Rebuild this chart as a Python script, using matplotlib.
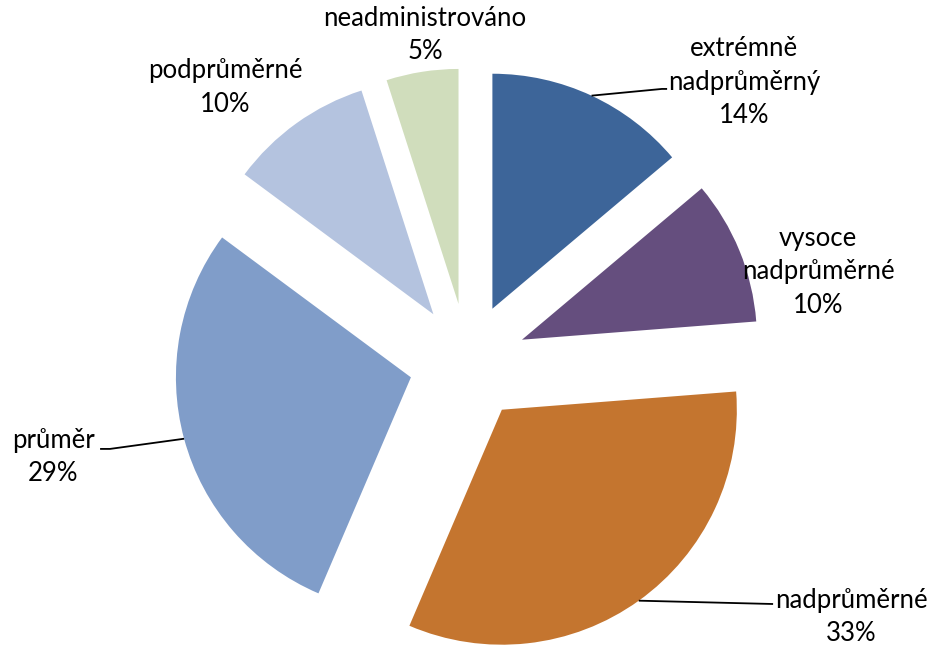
import matplotlib
matplotlib.use("Agg")
import matplotlib.pyplot as plt
import numpy as np

categories = ["extrémně\nnadprůměrný", "vysoce\nnadprůměrné", "nadprůměrné",
              "průměr", "podprůměrné", "neadministrováno"]
values = [14, 10, 33, 29, 10, 5]
colors = ["#3D6599", "#654E7E", "#C4752F", "#809DC9", "#B4C3DF", "#D0DDBC"]

# label centres (data units, pie radius = 1) and optional leader-line ends
label_pos = [(1.178, 1.19), (1.491, 0.383), (1.632, -1.085),
             (-1.764, -0.405), (-1.032, 1.168), (-0.181, 1.392)]
leaders = {0: [(0.827, 1.162), (0.849, 1.162)],
           2: [(1.300, -1.030)],
           3: [(-1.522, -0.370), (-1.564, -0.370)]}

plt.rcParams['font.family'] = ['Lato', 'DejaVu Sans']

fig = plt.figure(figsize=(9.31, 6.45), dpi=100)
ax = fig.add_axes([0, 0, 1, 1])
wedges, _ = ax.pie(values, colors=colors, startangle=90, counterclock=False,
                   explode=[0.25] * len(values), radius=1,
                   wedgeprops=dict(linewidth=0))
ax.set_xlim(-1.99, 1.972)
ax.set_ylim(-1.204, 1.540)
ax.set_aspect('equal')
ax.axis('off')

for i, (w, cat, v) in enumerate(zip(wedges, categories, values)):
    x, y = label_pos[i]
    ax.text(x, y, f"{cat}\n{v}%", ha='center', va='center',
            multialignment='center', fontsize=18.5, linespacing=1.42,
            color='#000000')
    if i in leaders:
        mid = np.deg2rad((w.theta1 + w.theta2) / 2)
        cx, cy = w.center
        pts = [(cx + w.r * np.cos(mid), cy + w.r * np.sin(mid))] + leaders[i]
        xs, ys = zip(*pts)
        ax.plot(xs, ys, color='black', linewidth=1.3, solid_capstyle='butt')

fig.savefig("out.png", dpi=100)
